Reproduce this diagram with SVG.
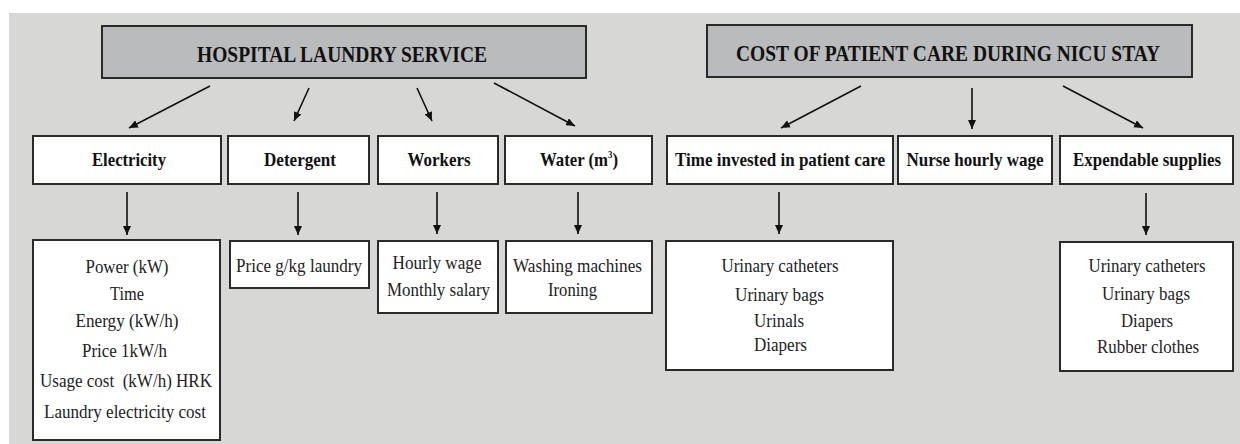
<svg xmlns="http://www.w3.org/2000/svg" width="1240" height="444" viewBox="0 0 1240 444">
<defs>
<marker id="ah" markerUnits="userSpaceOnUse" markerWidth="10" markerHeight="8" refX="9" refY="4" orient="auto">
<path d="M0,0 L9,4 L0,8 Z" fill="#111"/>
</marker>
<style>
.title{fill:#b9bbbc;stroke:#2a2a2a;stroke-width:2}
.box{fill:#fff;stroke:#2a2a2a;stroke-width:2}
.tt{font-family:"Liberation Serif",serif;font-weight:bold;font-size:24px;fill:#111;text-anchor:middle}
.hd{font-family:"Liberation Serif",serif;font-weight:bold;font-size:19px;fill:#111;text-anchor:middle}
.tx{font-family:"Liberation Serif",serif;font-size:19px;fill:#222;text-anchor:middle}
.ar{stroke:#111;stroke-width:1.6;fill:none;marker-end:url(#ah)}
</style>
</defs>
<rect x="0" y="0" width="1240" height="444" fill="#ffffff"/>
<rect x="9" y="13" width="1231" height="431" fill="#d7d8d6"/>

<g id="title-laundry">
<rect class="title" x="102" y="26" width="484" height="52"/>
<text class="tt" x="342" y="62" textLength="290" lengthAdjust="spacingAndGlyphs">HOSPITAL LAUNDRY SERVICE</text>
</g>
<g id="title-nicu">
<rect class="title" x="707" y="25" width="485" height="52"/>
<text class="tt" x="948" y="61" textLength="424" lengthAdjust="spacingAndGlyphs">COST OF PATIENT CARE DURING NICU STAY</text>
</g>

<g id="electricity">
<rect class="box" x="33" y="136" width="188" height="48"/>
<text class="hd" x="129" y="166" textLength="74" lengthAdjust="spacingAndGlyphs">Electricity</text>
</g>
<g id="detergent">
<rect class="box" x="228" y="136" width="141" height="48"/>
<text class="hd" x="300" y="166" textLength="72" lengthAdjust="spacingAndGlyphs">Detergent</text>
</g>
<g id="workers">
<rect class="box" x="378" y="136" width="120" height="48"/>
<text class="hd" x="439" y="166" textLength="63" lengthAdjust="spacingAndGlyphs">Workers</text>
</g>
<g id="water">
<rect class="box" x="505" y="136" width="147" height="48"/>
<text class="hd" x="540" y="166" style="text-anchor:start" textLength="78" lengthAdjust="spacingAndGlyphs">Water (m<tspan dy="-8" style="font-size:10px">3</tspan><tspan dy="8">)</tspan></text>
</g>
<g id="time-invested">
<rect class="box" x="667" y="136" width="226" height="48"/>
<text class="hd" x="780" y="166" textLength="210" lengthAdjust="spacingAndGlyphs">Time invested in patient care</text>
</g>
<g id="nurse-wage">
<rect class="box" x="898" y="136" width="154" height="48"/>
<text class="hd" x="975" y="166" textLength="137" lengthAdjust="spacingAndGlyphs">Nurse hourly wage</text>
</g>
<g id="expendable">
<rect class="box" x="1060" y="136" width="173" height="48"/>
<text class="hd" x="1147" y="166" textLength="148" lengthAdjust="spacingAndGlyphs">Expendable supplies</text>
</g>

<g id="electricity-details">
<rect class="box" x="33" y="240" width="187" height="200"/>
<text class="tx" x="127" y="273" textLength="83" lengthAdjust="spacingAndGlyphs">Power (kW)</text>
<text class="tx" x="127" y="300" textLength="34" lengthAdjust="spacingAndGlyphs">Time</text>
<text class="tx" x="127" y="327" textLength="103" lengthAdjust="spacingAndGlyphs">Energy (kW/h)</text>
<text class="tx" x="124.5" y="357" textLength="85" lengthAdjust="spacingAndGlyphs">Price 1kW/h</text>
<text class="tx" x="126" y="387" style="white-space:pre" textLength="172" lengthAdjust="spacingAndGlyphs">Usage cost  (kW/h) HRK</text>
<text class="tx" x="125" y="418" textLength="162" lengthAdjust="spacingAndGlyphs">Laundry electricity cost</text>
</g>
<g id="detergent-details">
<rect class="box" x="230" y="241" width="139" height="47"/>
<text class="tx" x="299" y="272" textLength="126" lengthAdjust="spacingAndGlyphs">Price g/kg laundry</text>
</g>
<g id="workers-details">
<rect class="box" x="378" y="241" width="120" height="72"/>
<text class="tx" x="437" y="269" textLength="89" lengthAdjust="spacingAndGlyphs">Hourly wage</text>
<text class="tx" x="438.5" y="296" textLength="103" lengthAdjust="spacingAndGlyphs">Monthly salary</text>
</g>
<g id="water-details">
<rect class="box" x="506" y="241" width="146" height="72"/>
<text class="tx" x="577.5" y="272" textLength="129" lengthAdjust="spacingAndGlyphs">Washing machines</text>
<text class="tx" x="572.5" y="296" textLength="49" lengthAdjust="spacingAndGlyphs">Ironing</text>
</g>
<g id="time-details">
<rect class="box" x="666" y="241" width="227" height="129"/>
<text class="tx" x="780" y="272" textLength="117" lengthAdjust="spacingAndGlyphs">Urinary catheters</text>
<text class="tx" x="779.5" y="301" textLength="89" lengthAdjust="spacingAndGlyphs">Urinary bags</text>
<text class="tx" x="779" y="327" textLength="50" lengthAdjust="spacingAndGlyphs">Urinals</text>
<text class="tx" x="780.5" y="351" textLength="53" lengthAdjust="spacingAndGlyphs">Diapers</text>
</g>
<g id="expendable-details">
<rect class="box" x="1060" y="242" width="173" height="129"/>
<text class="tx" x="1147" y="272" textLength="117" lengthAdjust="spacingAndGlyphs">Urinary catheters</text>
<text class="tx" x="1146" y="300" textLength="88" lengthAdjust="spacingAndGlyphs">Urinary bags</text>
<text class="tx" x="1147" y="327" textLength="52" lengthAdjust="spacingAndGlyphs">Diapers</text>
<text class="tx" x="1148" y="353" textLength="102" lengthAdjust="spacingAndGlyphs">Rubber clothes</text>
</g>

<g id="connectors">
<line class="ar" x1="210" y1="86" x2="129" y2="128"/>
<line class="ar" x1="309" y1="88" x2="294" y2="121"/>
<line class="ar" x1="417" y1="88" x2="432" y2="121"/>
<line class="ar" x1="494" y1="83" x2="575" y2="126"/>
<line class="ar" x1="861" y1="86" x2="781" y2="128"/>
<line class="ar" x1="972" y1="88" x2="972" y2="129"/>
<line class="ar" x1="1063" y1="86" x2="1143" y2="128"/>
<line class="ar" x1="127" y1="192" x2="127" y2="235"/>
<line class="ar" x1="298" y1="192" x2="298" y2="235"/>
<line class="ar" x1="437" y1="192" x2="437" y2="234"/>
<line class="ar" x1="578" y1="192" x2="578" y2="234"/>
<line class="ar" x1="779" y1="192" x2="779" y2="234"/>
<line class="ar" x1="1146" y1="193" x2="1146" y2="235"/>
</g>
</svg>
